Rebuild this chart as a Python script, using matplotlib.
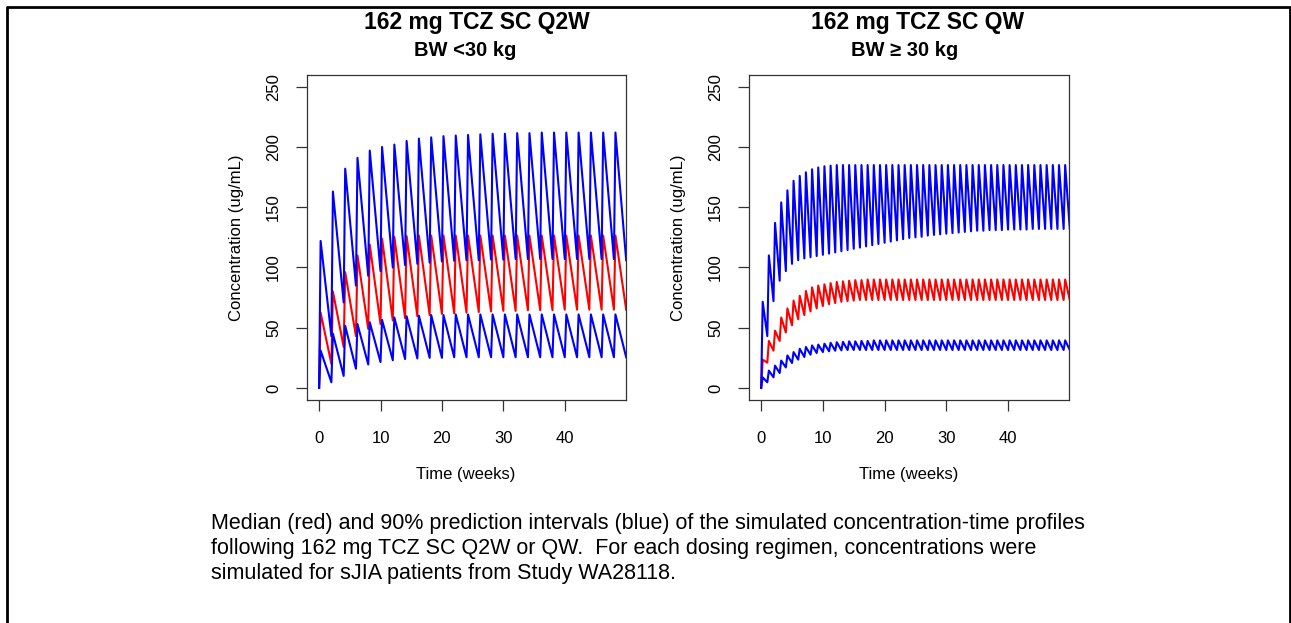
import numpy as np
import matplotlib.pyplot as plt
from matplotlib.lines import Line2D

plt.rcParams['font.family'] = ['Liberation Sans', 'DejaVu Sans']

# Q2W (BW < 30 kg): one value per dose interval, doses at week 0, 2, ..., 48
q2w_doses = np.arange(0, 50, 2)
q2w_hi_peak = [122, 163, 182, 191, 197, 200, 202, 205, 207, 208, 209, 209.5, 210,
               210.5, 211, 211, 211.5, 211.5, 212, 212, 212, 212, 212, 212, 212]
q2w_hi_trough = [43, 71, 85, 93, 97, 100, 102, 103, 104, 105, 105.5, 106, 106,
                 106.5, 106.5, 107, 107, 107, 107, 107, 107, 107, 107, 107, 106]
q2w_med_peak = [62.5, 80, 96, 110, 119, 124, 125.5, 126, 126.5, 126.5, 126.5, 126.5, 126.5,
                126.5, 126.5, 126.5, 126.5, 126.5, 126.5, 126.5, 126.5, 126.5, 126.5, 126.5, 126.5]
q2w_med_trough = [20, 34, 43, 49, 53, 56, 58, 59.5, 60.5, 61.5, 62, 62.5, 63,
                  63.5, 64, 64, 64.5, 64.5, 64.5, 65, 65, 65, 65, 65, 65]
q2w_lo_peak = [31, 45, 51.5, 53, 54.5, 56.5, 58.5, 59.5, 60, 60.5, 60.5, 61, 61,
               61, 61, 61, 61, 61, 61, 61, 61, 61, 61, 61, 61]
q2w_lo_trough = [4.7, 10, 16, 19.5, 21.5, 23, 24, 24.5, 25, 25, 25.5, 25.5, 25.5,
                 25.5, 25.5, 25.5, 25.5, 25.5, 25.5, 25.5, 25.5, 25.5, 25.5, 25.5, 25.5]

# QW (BW >= 30 kg): doses at week 0, 1, ..., 49
qw_doses = np.arange(0, 50, 1)
qw_hi_peak = [71.5, 110, 137, 154, 164, 172, 176, 179, 181.5, 183,
              184, 184.5, 185, 185, 185, 185, 185, 185, 185, 185,
              185, 185, 185, 185, 185, 185, 185, 185, 185, 185,
              185, 185, 185, 185, 185, 185, 185, 185, 185, 185,
              185, 185, 185, 185, 185, 185, 185, 185, 185, 185]
qw_hi_trough = [43, 72, 89, 97, 103, 106, 107.5, 108.5, 109.5, 110.5,
                111.5, 112.5, 113.5, 114.5, 115.5, 116.5, 117.5, 118.5, 119.5, 120.5,
                121.5, 122.5, 123.5, 124.5, 125, 125.5, 126.5, 127, 127.5, 128,
                128.5, 129, 129.5, 130, 130.5, 130.5, 131, 131, 131, 131.5,
                131.5, 131.5, 131.5, 132, 132, 132, 132, 132, 132, 132]
qw_med_peak = [23.5, 39, 47.5, 58.5, 66, 72.5, 76.5, 80.5, 83.5, 85,
               86, 87, 88, 88.5, 89, 89.5, 89.5, 90, 90, 90,
               90, 90, 90, 90, 90, 90, 90, 90, 90, 90,
               90, 90, 90, 90, 90, 90, 90, 90, 90, 90,
               90, 90, 90, 90, 90, 90, 90, 90, 90, 90]
qw_med_trough = [21, 31, 39, 46, 52, 57, 60.5, 63.5, 66, 68,
                 69.5, 70.5, 71.5, 72, 72.5, 73, 73, 73, 73, 73,
                 73, 73, 73, 73, 73, 73, 73, 73, 73, 73,
                 73, 73, 73, 73, 73, 73, 73, 73, 73, 73,
                 73, 73, 73, 73, 73, 73, 73, 73, 73, 73]
qw_lo_peak = [8.8, 14.4, 18.5, 22.7, 27, 29.8, 32.5, 34, 35.3, 36,
              36.7, 37.5, 38, 38.3, 38.7, 38.7, 39, 39, 39.5, 39.5,
              39.5, 39.5, 39.5, 39.5, 39.5, 39.5, 39.5, 39.5, 39.5, 39.5,
              39.5, 39.5, 39.5, 39.5, 39.5, 39.5, 39.5, 39.5, 39.5, 39.5,
              39.5, 39.5, 39.5, 39.5, 39.5, 39.5, 39.5, 39.5, 39.5, 39.5]
qw_lo_trough = [4.7, 8.8, 12.4, 17, 20.7, 23.5, 25.7, 27.6, 29, 29.8,
                30.4, 30.9, 31.2, 31.5, 31.5, 31.5, 31.5, 31.5, 31.5, 31.5,
                31.5, 31.5, 31.5, 31.5, 31.5, 31.5, 31.5, 31.5, 31.5, 31.5,
                31.5, 31.5, 31.5, 31.5, 31.5, 31.5, 31.5, 31.5, 31.5, 31.5,
                31.5, 31.5, 31.5, 31.5, 31.5, 31.5, 31.5, 31.5, 31.5, 31.5]

x_ticks = [0, 10, 20, 30, 40]
y_ticks = [0, 50, 100, 150, 200, 250]


def profile(doses, tau, peaks, troughs, tmax=0.25):
    t = [0.0]
    c = [0.0]
    for d, pk, tr in zip(doses, peaks, troughs):
        t += [d + tmax, d + tau]
        c += [pk, tr]
    return t, c


W, H = 1291, 623
fig = plt.figure(figsize=(W / 100, H / 100), dpi=100)


def px_axes(x0, x1, y0, y1):
    return fig.add_axes([x0 / W, 1 - y1 / H, (x1 - x0) / W, (y1 - y0) / H])


ax1 = px_axes(307.3, 625.7, 74.7, 400)
ax2 = px_axes(749.3, 1069.3, 74.7, 400)

panels = [
    (ax1, q2w_doses, 2, [(q2w_med_peak, q2w_med_trough, 'red'),
                         (q2w_lo_peak, q2w_lo_trough, 'blue'),
                         (q2w_hi_peak, q2w_hi_trough, 'blue')]),
    (ax2, qw_doses, 1, [(qw_med_peak, qw_med_trough, 'red'),
                        (qw_lo_peak, qw_lo_trough, 'blue'),
                        (qw_hi_peak, qw_hi_trough, 'blue')]),
]

for ax, doses, tau, series in panels:
    for peaks, troughs, col in series:
        t, c = profile(doses, tau, peaks, troughs)
        ax.plot(t, c, color=col, lw=1.5)
    ax.set_xlim(-1.92, 49.92)
    ax.set_ylim(-10, 260)
    ax.set_xticks(x_ticks)
    ax.set_yticks(y_ticks)
    ax.tick_params(axis='both', length=8, width=0.9, color='#333333', labelsize=12)
    ax.tick_params(axis='x', pad=14)
    ax.tick_params(axis='y', pad=11)
    plt.setp(ax.get_yticklabels(), rotation=90, va='center')
    for s in ax.spines.values():
        s.set_linewidth(0.9)
        s.set_color('#333333')

# axis labels
for cx in (466, 909):
    fig.text(cx / W, 1 - 475 / H, 'Time (weeks)', ha='center', va='center', fontsize=12)
for cx in (236, 678):
    fig.text(cx / W, 1 - 238 / H, 'Concentration (ug/mL)', ha='center', va='center',
             rotation=90, fontsize=12)

# panel titles
fig.text(477 / W, 1 - 22 / H, '162 mg TCZ SC Q2W', ha='center', va='center',
         fontsize=16.5, fontweight='bold')
fig.text(465 / W, 1 - 50 / H, 'BW <30 kg', ha='center', va='center',
         fontsize=14.5, fontweight='bold')
fig.text(918 / W, 1 - 22 / H, '162 mg TCZ SC QW', ha='center', va='center',
         fontsize=16.5, fontweight='bold')
fig.text(905 / W, 1 - 50 / H, 'BW \u2265 30 kg', ha='center', va='center',
         fontsize=14.5, fontweight='bold')

# caption
caption = ['Median (red) and 90% prediction intervals (blue) of the simulated concentration-time profiles',
           'following 162 mg TCZ SC Q2W or QW.  For each dosing regimen, concentrations were',
           'simulated for sJIA patients from Study WA28118.']
for i, line in enumerate(caption):
    fig.text(211 / W, 1 - (523 + 25.5 * i) / H, line, ha='left', va='center', fontsize=15.5)

# page frame (left, top, right)
fig.add_artist(Line2D([6.5 / W, 6.5 / W, 1289.5 / W, 1289.5 / W],
                      [0, 1 - 6.5 / H, 1 - 6.5 / H, 0],
                      transform=fig.transFigure, color='black', lw=2))

fig.savefig('out.png', dpi=100, facecolor='white')
